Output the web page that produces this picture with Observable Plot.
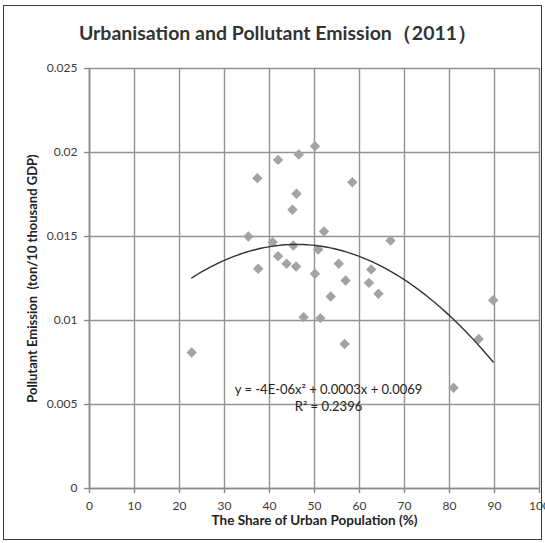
<!DOCTYPE html>
<html><head><meta charset="utf-8">
<script src="https://cdn.jsdelivr.net/npm/d3@7"></script>
<script src="https://cdn.jsdelivr.net/npm/@observablehq/plot@0.6"></script>
<style>
body{margin:0;background:#fff;}
#wrap{position:relative;width:545px;height:543px;box-sizing:border-box;font-family:Lato,"Open Sans",sans-serif;overflow:hidden;}
#frame{position:absolute;left:3px;top:5px;width:539px;height:535px;border:1.5px solid #3a3a3a;box-sizing:border-box;pointer-events:none;}
#title{height:55px;box-sizing:border-box;padding-top:21px;width:556px;text-align:center;font-weight:bold;font-size:19.5px;color:#333;line-height:24px;}
#chart svg{display:block;}
</style></head>
<body>
<div id="wrap">
<div id="frame"></div>
<div id="title">Urbanisation and Pollutant Emission（2011）</div>
<div id="chart"></div>
</div>
<script>
// Share of urban population (%) per province
const urbanShare = [22.7, 35.3, 37.3, 37.5, 40.7, 41.9, 41.9, 43.8, 45.1, 45.3, 46.0, 45.9, 46.5, 47.6, 50.1, 50.1, 50.8, 51.3, 52.1, 53.6, 55.4, 56.7, 56.9, 58.4, 62.1, 62.6, 64.2, 66.9, 80.9, 86.5, 89.7];
// Pollutant emission (ton / 10 thousand GDP)
const emission = [0.0081, 0.0150, 0.01847, 0.01308, 0.01466, 0.01956, 0.01383, 0.01338, 0.01659, 0.01446, 0.01754, 0.01321, 0.01988, 0.0102, 0.02037, 0.01278, 0.01423, 0.01014, 0.0153, 0.01143, 0.01338, 0.0086, 0.01238, 0.01823, 0.01224, 0.01304, 0.01159, 0.01476, 0.0060, 0.0089, 0.0112];
const xTicks = [0, 10, 20, 30, 40, 50, 60, 70, 80, 90, 100];
const yTicks = [0, 0.005, 0.01, 0.015, 0.02, 0.025];
const equationText = ["y = -4E-06x² + 0.0003x + 0.0069", "R² = 0.2396"];
const xLabel = "The Share of Urban Population (%)";
const yLabel = "Pollutant Emission  (ton/10 thousand GDP)";

const points = urbanShare.map((x, i) => ({x, y: emission[i]}));

// least-squares quadratic fit (polynomial trendline)
function quadFit(xs, ys) {
  const n = xs.length;
  let S = [0,0,0,0,0], T = [0,0,0];
  for (let i = 0; i < n; i++) {
    let p = 1;
    for (let k = 0; k < 5; k++) { S[k] += p; if (k < 3) T[k] += p * ys[i]; p *= xs[i]; }
  }
  const A = [[S[0],S[1],S[2],T[0]],[S[1],S[2],S[3],T[1]],[S[2],S[3],S[4],T[2]]];
  for (let c = 0; c < 3; c++) {
    for (let r = c + 1; r < 3; r++) {
      const f = A[r][c] / A[c][c];
      for (let k = c; k < 4; k++) A[r][k] -= f * A[c][k];
    }
  }
  const coef = [0,0,0];
  for (let r = 2; r >= 0; r--) {
    let s = A[r][3];
    for (let k = r + 1; k < 3; k++) s -= A[r][k] * coef[k];
    coef[r] = s / A[r][r];
  }
  return coef; // c0 + c1 x + c2 x^2
}
const coef = quadFit(urbanShare, emission);
const xmin = d3.min(urbanShare), xmax = d3.max(urbanShare);
const curve = d3.range(0, 101).map(i => {
  const x = xmin + (xmax - xmin) * i / 100;
  return {x, y: coef[0] + coef[1] * x + coef[2] * x * x};
});

const fmtY = d => d === 0 ? "0" : String(+d.toFixed(3));

const chart = Plot.plot({
  width: 545,
  height: 488,
  marginLeft: 89,
  marginRight: 6,
  marginTop: 13,
  marginBottom: 55,
  style: {fontFamily: "Lato, 'Open Sans', sans-serif", fontSize: "12px", color: "#333", background: "transparent", overflow: "visible"},
  x: {domain: [0, 100]},
  y: {domain: [0, 0.025]},
  marks: [
    Plot.gridX(xTicks, {stroke: "#939393", strokeOpacity: 1, strokeWidth: 1.4}),
    Plot.gridY(yTicks, {stroke: "#939393", strokeOpacity: 1, strokeWidth: 1.4}),
    Plot.axisX(xTicks, {tickSize: 5, tickPadding: 8, stroke: "#8a8a8a", strokeWidth: 1.4, fill: "#3a3a3a", fontSize: 12, label: null}),
    Plot.axisY(yTicks, {tickSize: 5, tickPadding: 7, stroke: "#8a8a8a", strokeWidth: 1.4, fill: "#3a3a3a", fontSize: 12, tickFormat: fmtY, label: null}),
    Plot.ruleX([0], {stroke: "#8a8a8a", strokeWidth: 1.6}),
    Plot.ruleY([0], {stroke: "#8a8a8a", strokeWidth: 1.6}),
    Plot.dot(points, {x: "x", y: "y", symbol: "diamond2", r: 4.7, fill: "#a3a3a3", stroke: "none"}),
    Plot.line(curve, {x: "x", y: "y", stroke: "#333", strokeWidth: 1.4, curve: "linear"}),
    Plot.text([equationText[0]], {frameAnchor: "bottom", text: d => d, dx: 14, dy: -95, fontSize: 13, fill: "#222"}),
    Plot.text([equationText[1]], {frameAnchor: "bottom", text: d => d, dx: 14, dy: -78, fontSize: 13, fill: "#222"}),
    Plot.text([xLabel], {frameAnchor: "bottom", text: d => d, dy: 36, fontSize: 13.5, fontWeight: "bold", fill: "#222"}),
    Plot.text([yLabel], {frameAnchor: "left", text: d => d, rotate: -90, textAnchor: "middle", dx: -57, dy: 0, fontSize: 13, fontWeight: "bold", fill: "#222"})
  ]
});
document.getElementById("chart").appendChild(chart);
</script>
</body></html>
